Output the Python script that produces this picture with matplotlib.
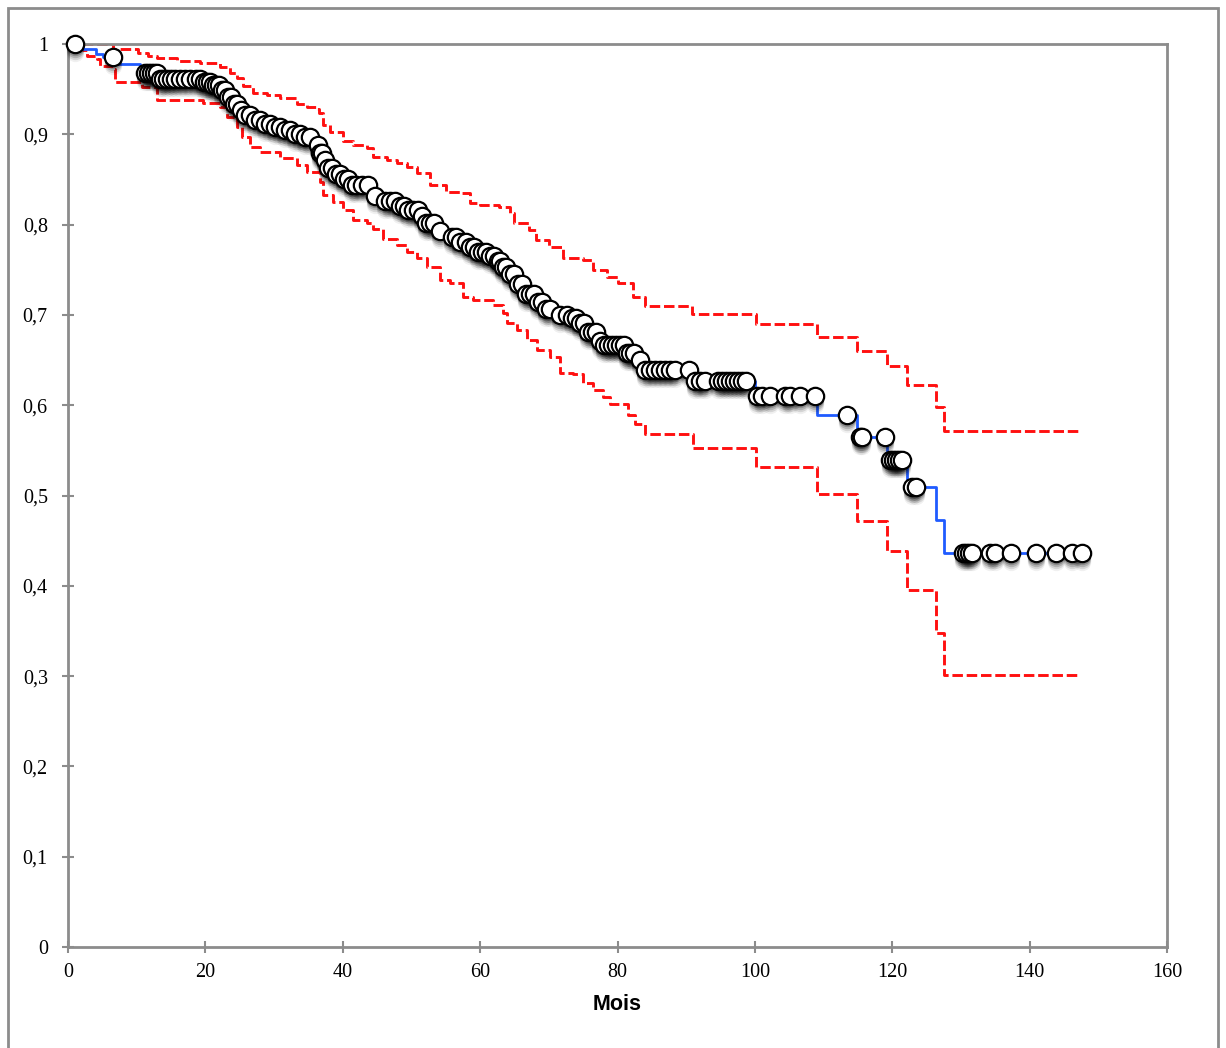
#!/usr/bin/env python3
"""Kaplan-Meier survival curve with 95% CI bands (Mois)."""
import numpy as np
import matplotlib.pyplot as plt
import matplotlib.transforms as mtransforms
from matplotlib.patches import Rectangle

# KM estimate: event times (months) and survival after each event
km_t = [0, 2.2, 4.1, 5.1, 6.6, 10.5, 13.4, 19.7, 21.1, 22.1, 23.0, 23.9, 24.7, 25.6,
        26.9, 28.2, 29.8, 31.3, 32.8, 34.2, 36.1, 36.7, 37.1, 37.9, 39.0, 40.2, 41.3,
        44.3, 46.1, 48.0, 49.5, 51.0, 52.1, 53.6, 55.0, 57.1, 58.2, 59.4, 61.1, 62.6,
        63.2, 64.1, 65.2, 66.7, 68.1, 69.3, 70.9, 73.1, 74.5, 75.7, 77.2, 78.0, 81.4,
        82.8, 84.0, 90.8, 100.0, 109.0, 114.9, 119.2, 122.1, 126.4, 127.5]
km_s = [1.0, 0.994, 0.989, 0.986, 0.978, 0.968, 0.961, 0.958, 0.955, 0.949, 0.941, 0.934,
        0.927, 0.921, 0.916, 0.911, 0.908, 0.905, 0.900, 0.897, 0.888, 0.879, 0.872, 0.863,
        0.856, 0.850, 0.844, 0.832, 0.826, 0.821, 0.816, 0.809, 0.802, 0.793, 0.786, 0.781,
        0.775, 0.770, 0.765, 0.760, 0.753, 0.745, 0.734, 0.723, 0.714, 0.707, 0.700, 0.697,
        0.691, 0.681, 0.671, 0.667, 0.658, 0.650, 0.639, 0.627, 0.610, 0.589, 0.565, 0.539,
        0.509, 0.473, 0.436]
km_end = 147.6

# censored observations (months)
cens_t = [1.0, 6.55, 11.2, 11.65, 12.1, 12.5, 12.95, 13.4, 13.8, 14.4, 15.0, 15.6, 16.3,
          17.0, 17.8, 18.6, 19.2, 19.8, 20.2, 20.7, 21.1, 21.5, 22.0, 22.4, 22.9, 23.3,
          23.7, 24.2, 24.6, 25.2, 25.8, 26.5, 27.2, 28.0, 28.7, 29.4, 30.1, 30.9, 31.6,
          32.3, 33.0, 33.8, 34.5, 35.2, 36.4, 36.7, 37.0, 37.4, 37.9, 38.4, 39.0, 39.6,
          40.2, 40.8, 41.3, 41.9, 42.8, 43.7, 44.7, 46.1, 46.9, 47.6, 48.3, 48.9, 49.5,
          50.2, 50.9, 51.5, 52.1, 52.7, 53.3, 54.2, 55.9, 56.5, 57.1, 57.9, 58.5, 59.1,
          59.7, 60.3, 60.9, 61.4, 62.0, 62.6, 62.9, 63.3, 63.8, 64.3, 64.9, 65.5, 66.1,
          66.7, 67.3, 67.8, 68.4, 69.0, 69.6, 70.2, 71.6, 72.6, 73.4, 74.0, 74.5, 75.1,
          75.7, 76.3, 76.9, 77.4, 78.0, 78.6, 79.2, 79.8, 80.4, 80.9, 81.4, 81.8, 82.4,
          83.3, 84.0, 84.7, 85.5, 86.2, 86.9, 87.6, 88.4, 90.4, 91.3, 92.0, 92.7, 94.6,
          95.2, 95.8, 96.4, 96.9, 97.5, 98.1, 98.7, 100.3, 101.0, 102.2, 104.4, 105.1,
          106.6, 108.7, 113.4, 115.3, 115.6, 118.9, 119.7, 120.1, 120.5, 121.0, 121.4,
          122.9, 123.4, 130.3, 130.7, 131.2, 131.6, 134.2, 135.0, 137.3, 140.9, 143.8,
          146.2, 147.6]

# upper 95% CI
up_t = [0, 6.6, 10.2, 11.6, 13.0, 15.9, 19.2, 22.1, 23.6, 24.6, 25.5, 26.9, 28.9, 30.9,
        33.3, 34.8, 36.3, 36.6, 37.1, 38.2, 40.0, 41.5, 43.5, 44.4, 46.4, 47.9, 49.3,
        50.8, 52.7, 55.1, 57.0, 58.5, 60.0, 62.8, 64.3, 64.9, 67.1, 68.1, 70.1, 72.0,
        75.0, 76.4, 78.5, 80.0, 82.3, 84.0, 90.9, 100.1, 109.1, 114.8, 119.2, 122.1,
        126.4, 127.5]
up_s = [1.0, 0.994, 0.990, 0.987, 0.985, 0.981, 0.979, 0.975, 0.968, 0.962, 0.953, 0.946,
        0.944, 0.940, 0.934, 0.930, 0.928, 0.924, 0.910, 0.902, 0.893, 0.888, 0.885, 0.875,
        0.872, 0.868, 0.864, 0.857, 0.844, 0.836, 0.835, 0.824, 0.822, 0.820, 0.813, 0.802,
        0.794, 0.783, 0.775, 0.763, 0.761, 0.750, 0.742, 0.735, 0.720, 0.710, 0.701, 0.690,
        0.676, 0.660, 0.643, 0.622, 0.598, 0.571]

# lower 95% CI
lo_t = [0, 2.2, 2.8, 4.2, 4.6, 6.6, 6.9, 10.8, 13.0, 19.7, 22.1, 23.1, 24.6, 25.3, 26.5,
        28.0, 30.9, 33.3, 34.8, 36.7, 37.1, 38.6, 40.0, 41.5, 43.5, 44.4, 45.9, 47.9,
        49.4, 50.8, 52.3, 54.2, 55.6, 57.5, 59.0, 61.9, 63.3, 63.9, 65.4, 66.8, 68.3,
        70.2, 71.6, 73.5, 75.0, 76.4, 77.9, 78.9, 81.5, 82.5, 84.0, 91.0, 100.1, 109.0,
        114.9, 119.2, 122.1, 126.4, 127.5]
lo_s = [1.0, 0.993, 0.987, 0.983, 0.976, 0.972, 0.958, 0.952, 0.938, 0.935, 0.930, 0.919,
        0.908, 0.897, 0.886, 0.880, 0.874, 0.866, 0.858, 0.847, 0.833, 0.825, 0.816, 0.805,
        0.802, 0.795, 0.784, 0.777, 0.770, 0.763, 0.753, 0.739, 0.735, 0.720, 0.716, 0.711,
        0.702, 0.691, 0.683, 0.672, 0.661, 0.653, 0.636, 0.635, 0.625, 0.617, 0.609, 0.601,
        0.589, 0.579, 0.568, 0.553, 0.532, 0.502, 0.472, 0.439, 0.395, 0.348, 0.301]
ci_end = 147.0

x_ticks = [0, 20, 40, 60, 80, 100, 120, 140, 160]
y_ticks = [0, 0.1, 0.2, 0.3, 0.4, 0.5, 0.6, 0.7, 0.8, 0.9, 1.0]
y_labels = ["0", "0,1", "0,2", "0,3", "0,4", "0,5", "0,6", "0,7", "0,8", "0,9", "1"]

GRAY = "#8c8c8c"
RED = "#ff1010"
BLUE = "#1f5bff"


def _steps(t, s, end):
    return list(t) + [end], list(s) + [s[-1]]


def main():
    fig = plt.figure(figsize=(12.26, 10.48), dpi=100)
    # outer frame (bottom edge is off-canvas)
    fig.patches.append(Rectangle((8 / 1226, -0.05), 1210 / 1226, 1 - 8 / 1048 + 0.05,
                                 transform=fig.transFigure, fill=False,
                                 edgecolor=GRAY, lw=2))
    ax = fig.add_axes([68 / 1226, 1 - 947 / 1048, 1099 / 1226, 903 / 1048])

    ut, us = _steps(up_t, up_s, ci_end)
    lt, ls = _steps(lo_t, lo_s, ci_end)
    dash = (0, (3.6, 1.3))
    ax.step(ut, us, where="post", color=RED, lw=2.1, linestyle=dash, zorder=2)
    ax.step(lt, ls, where="post", color=RED, lw=2.1, linestyle=dash, zorder=2)

    kt, ks = _steps(km_t, km_s, km_end)
    ax.step(kt, ks, where="post", color=BLUE, lw=2.0, zorder=3)

    # censor marks sit on the KM curve
    idx = np.searchsorted(np.asarray(km_t), np.asarray(cens_t), side="right") - 1
    cy = np.asarray(km_s)[idx]
    for k, off in enumerate([9, 7, 5, 3]):
        tr = mtransforms.offset_copy(ax.transData, fig=fig, x=0, y=-off, units="dots")
        ax.plot(cens_t, cy, "o", ms=12.5, mfc="black", mec="none", alpha=0.06 + 0.05 * k,
                transform=tr, zorder=4, clip_on=False)
    ax.plot(cens_t, cy, "o", ms=12.5, mfc="white", mec="black", mew=1.6, zorder=5,
            clip_on=False)

    ax.set_xlim(0, 160)
    ax.set_ylim(0, 1)
    ax.set_xticks(x_ticks)
    ax.set_yticks(y_ticks)
    ax.set_yticklabels(y_labels)
    for sp in ax.spines.values():
        sp.set_color(GRAY)
        sp.set_linewidth(2)
    ax.tick_params(direction="inout", length=9, width=1.5, color=GRAY, pad=7)
    for lab in ax.get_xticklabels() + ax.get_yticklabels():
        lab.set_fontfamily("Liberation Serif")
        lab.set_fontsize(14.5)
    ax.tick_params(axis="y", pad=10)
    ax.set_xlabel("Mois", fontfamily="Liberation Sans", fontweight="bold", fontsize=15.5,
                  labelpad=9)

    fig.savefig("out.png", dpi=100)
    plt.close(fig)
    return 0


if __name__ == "__main__":
    raise SystemExit(main())
